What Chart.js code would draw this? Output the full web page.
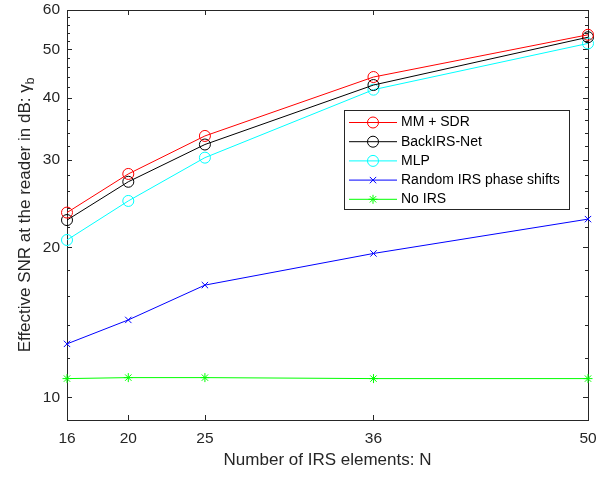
<!DOCTYPE html>
<html>
<head>
<meta charset="utf-8">
<script src="https://cdn.jsdelivr.net/npm/chart.js@4"></script>
<style>
  body { margin: 0; background: white; }
  canvas { display: block; }
</style>
</head>
<body>
<canvas id="snrChart" width="599" height="477"></canvas>
<script>
// Data
const elements = [16, 20, 25, 36, 50];
const mmSdr = [23.5, 28.1, 33.5, 44.0, 53.5];
const backIrsNet = [22.7, 27.1, 32.2, 42.4, 52.9];
const mlp = [20.7, 24.8, 30.3, 41.5, 51.4];
const randomIrs = [12.8, 14.3, 16.8, 19.45, 22.8];
const noIrs = [10.9, 10.95, 10.95, 10.9, 10.9];

const xTicks = [16, 20, 25, 36, 50];
const yTicks = [10, 20, 30, 40, 50, 60];
const yMinorTicks = [12, 14, 16, 18, 22, 24, 26, 28, 32, 34, 36, 38, 42, 44, 46, 48, 52, 54, 56, 58];

const axisColor = "#262626";
const font = "Liberation Sans, Arial, Helvetica, sans-serif";

const toPoints = arr => arr.map((v, i) => ({ x: elements[i], y: v }));

// box, inward ticks and y title
const axesBox = {
  id: "axesBox",
  beforeDatasetsDraw(chart) {
    const { ctx, chartArea: a, scales: { x, y } } = chart;
    ctx.save();
    ctx.strokeStyle = axisColor;
    ctx.lineWidth = 1;
    ctx.beginPath();
    xTicks.forEach(t => {
      const px = Math.round(x.getPixelForValue(t)) + 0.5;
      ctx.moveTo(px, a.bottom); ctx.lineTo(px, a.bottom - 5);
      ctx.moveTo(px, a.top); ctx.lineTo(px, a.top + 5);
    });
    yTicks.forEach(t => {
      const py = Math.round(y.getPixelForValue(t)) + 0.5;
      ctx.moveTo(a.left, py); ctx.lineTo(a.left + 5, py);
      ctx.moveTo(a.right, py); ctx.lineTo(a.right - 5, py);
    });
    yMinorTicks.forEach(t => {
      const py = Math.round(y.getPixelForValue(t)) + 0.5;
      ctx.moveTo(a.left, py); ctx.lineTo(a.left + 3, py);
      ctx.moveTo(a.right, py); ctx.lineTo(a.right - 3, py);
    });
    ctx.stroke();
    ctx.strokeRect(Math.round(a.left) + 0.5, Math.round(a.top) + 0.5,
      Math.round(a.right - a.left), Math.round(a.bottom - a.top));

    // y axis title with subscript
    ctx.fillStyle = axisColor;
    ctx.translate(30, (a.top + a.bottom) / 2);
    ctx.rotate(-Math.PI / 2);
    const main = "Effective SNR at the reader in dB: γ";
    ctx.font = "17px " + font;
    const w1 = ctx.measureText(main).width;
    ctx.font = "12px " + font;
    const w2 = ctx.measureText("b").width;
    const start = -(w1 + w2) / 2;
    ctx.font = "17px " + font;
    ctx.textBaseline = "alphabetic";
    ctx.fillText(main, start, 0);
    ctx.font = "12px " + font;
    ctx.fillText("b", start + w1, 4);
    ctx.restore();
  }
};

// legend box inside the plot
const boxLegend = {
  id: "boxLegend",
  afterDatasetsDraw(chart) {
    const { ctx } = chart;
    const left = 344, top = 110, right = 569, bottom = 209;
    ctx.save();
    ctx.fillStyle = "white";
    ctx.fillRect(left, top, right - left, bottom - top);
    ctx.strokeStyle = axisColor;
    ctx.lineWidth = 1;
    ctx.strokeRect(left + 0.5, top + 0.5, right - left, bottom - top);
    ctx.font = "14px " + font;
    ctx.textBaseline = "middle";
    chart.data.datasets.forEach((ds, i) => {
      const yy = 122.5 + i * 19.2;
      ctx.strokeStyle = ds.borderColor;
      ctx.lineWidth = 1;
      ctx.beginPath();
      ctx.moveTo(349, yy); ctx.lineTo(397, yy);
      ctx.stroke();
      ctx.fillStyle = "rgba(0,0,0,0)";
      Chart.helpers.drawPoint(ctx, {
        pointStyle: ds.pointStyle, radius: ds.pointRadius, rotation: 0, borderWidth: 1
      }, 373, yy);
      ctx.fillStyle = "black";
      ctx.fillText(ds.label, 401, yy);
    });
    ctx.restore();
  }
};

const mkSet = (label, data, color, style, r) => ({
  label, data: toPoints(data), borderColor: color, backgroundColor: "rgba(0,0,0,0)",
  pointStyle: style, pointRadius: r, pointBorderColor: color, pointBackgroundColor: "rgba(0,0,0,0)",
  pointBorderWidth: 1, borderWidth: 1, tension: 0, clip: false
});

const noPad = s => { s.paddingTop = 0; s.paddingRight = 0; s.paddingLeft = 0; s.paddingBottom = 0; };

new Chart(document.getElementById("snrChart"), {
  type: "line",
  data: {
    datasets: [
      mkSet("MM + SDR", mmSdr, "#ff0000", "circle", 5.5),
      mkSet("BackIRS-Net", backIrsNet, "#000000", "circle", 5.5),
      mkSet("MLP", mlp, "#00ffff", "circle", 5.5),
      mkSet("Random IRS phase shifts", randomIrs, "#0000ff", "crossRot", 4.5),
      mkSet("No IRS", noIrs, "#00ff00", "star", 4.5)
    ]
  },
  options: {
    animation: false,
    responsive: false,
    layout: { padding: { top: 10, right: 11, left: 0, bottom: 0 } },
    plugins: { legend: { display: false }, tooltip: { enabled: false } },
    scales: {
      x: {
        type: "linear", min: 16, max: 50,
        grid: { display: false, drawTicks: false },
        border: { display: false },
        afterBuildTicks: s => { s.ticks = xTicks.map(v => ({ value: v })); },
        afterFit: s => { s.height = 57; noPad(s); },
        ticks: { color: axisColor, font: { family: font, size: 15.5 }, padding: 9, maxRotation: 0 },
        title: { display: true, text: "Number of IRS elements: N", color: axisColor,
          font: { family: font, size: 17 }, padding: { top: 0, bottom: 6 } }
      },
      y: {
        type: "logarithmic", min: 9, max: 60,
        grid: { display: false, drawTicks: false },
        border: { display: false },
        afterBuildTicks: s => { s.ticks = yTicks.map(v => ({ value: v })); },
        afterFit: s => { s.width = 67; noPad(s); },
        ticks: { color: axisColor, font: { family: font, size: 15.5 }, padding: 7,
          callback: v => String(v) }
      }
    }
  },
  plugins: [axesBox, boxLegend]
});
</script>
</body>
</html>
